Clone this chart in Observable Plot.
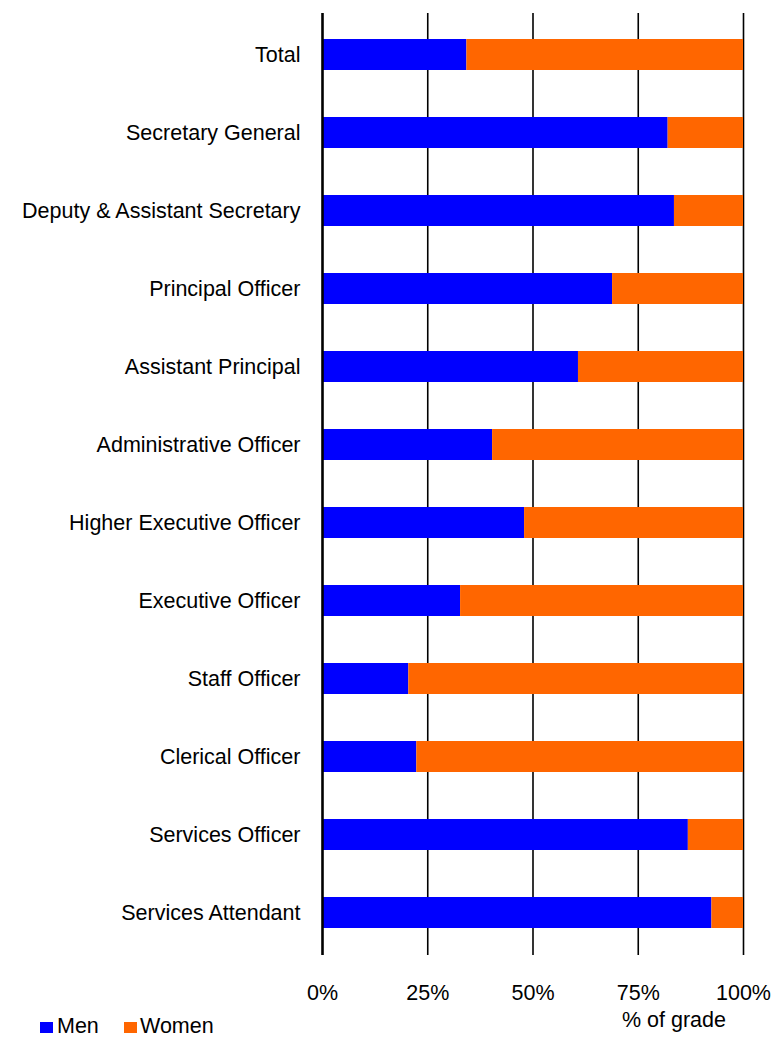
<!DOCTYPE html>
<html>
<head>
<meta charset="utf-8">
<script src="https://cdn.jsdelivr.net/npm/d3@7"></script>
<script src="https://cdn.jsdelivr.net/npm/@observablehq/plot@0.6"></script>
<style>
  html, body { margin: 0; padding: 0; background: #fff; }
  body { font-family: "Liberation Sans", Arial, sans-serif; color: #000; }
  #wrap { width: 773px; position: relative; }
  #below { position: relative; width: 773px; height: 27px; font-size: 21.5px; }
  .sw { position: absolute; width: 13px; height: 11px; }
  .lt { position: absolute; line-height: 22px; white-space: nowrap; }
</style>
</head>
<body>
<div id="wrap">
  <div id="chart"></div>
  <div id="below"></div>
</div>
<script>
const grades = [
  "Total",
  "Secretary General",
  "Deputy & Assistant Secretary",
  "Principal Officer",
  "Assistant Principal",
  "Administrative Officer",
  "Higher Executive Officer",
  "Executive Officer",
  "Staff Officer",
  "Clerical Officer",
  "Services Officer",
  "Services Attendant"
];
const menPct   = [34.3, 82.1, 83.6, 68.9, 60.8, 40.4, 48.0, 32.8, 20.5, 22.4, 86.9, 92.5];
const womenPct = [65.7, 17.9, 16.4, 31.1, 39.2, 59.6, 52.0, 67.2, 79.5, 77.6, 13.1,  7.5];
const seriesNames = ["Men", "Women"];
const seriesColors = ["#0000FF", "#FF6600"];
const xTicks = [0, 25, 50, 75, 100];
const gridTicks = [25, 50, 75, 100];
const xAxisTitle = "% of grade";

const rows = [];
grades.forEach((g, i) => {
  rows.push({grade: g, sex: "Men", value: menPct[i]});
  rows.push({grade: g, sex: "Women", value: womenPct[i]});
});

const chart = Plot.plot({
  width: 773,
  height: 1010,
  marginLeft: 322,
  marginRight: 30,
  marginTop: 13,
  marginBottom: 55,
  style: {fontSize: "21.5px", fontFamily: "Liberation Sans, Arial, sans-serif", color: "#000", background: "#fff", overflow: "visible"},
  x: {domain: [0, 100]},
  y: {domain: grades, paddingInner: 0.6, paddingOuter: 0.3},
  color: {domain: seriesNames, range: seriesColors},
  marks: [
    Plot.ruleX(gridTicks, {stroke: "#000", strokeWidth: 1.6}),
    Plot.barX(rows, Plot.stackX({x: "value", y: "grade", fill: "sex", order: seriesNames})),
    Plot.ruleX([0], {stroke: "#000", strokeWidth: 2.6}),
    Plot.axisY({tickSize: 0, tickPadding: 22, label: null, fontSize: "21.5px"}),
    Plot.axisX(xTicks, {tickSize: 0, tickPadding: 29, label: null, fontSize: "21.5px", tickFormat: d => d + "%"})
  ]
});
document.getElementById("chart").appendChild(chart);

const below = document.getElementById("below");
const legendPos = [{sw: 40, tx: 57}, {sw: 124, tx: 140}];
seriesNames.forEach((name, i) => {
  const s = document.createElement("div");
  s.className = "sw";
  s.style.left = legendPos[i].sw + "px";
  s.style.top = "12px";
  s.style.background = seriesColors[i];
  below.appendChild(s);
  const t = document.createElement("div");
  t.className = "lt";
  t.style.left = legendPos[i].tx + "px";
  t.style.top = "5px";
  t.textContent = name;
  below.appendChild(t);
});
const lab = document.createElement("div");
lab.className = "lt";
lab.style.left = "622px";
lab.style.top = "-1px";
lab.textContent = xAxisTitle;
below.appendChild(lab);
</script>
</body>
</html>
